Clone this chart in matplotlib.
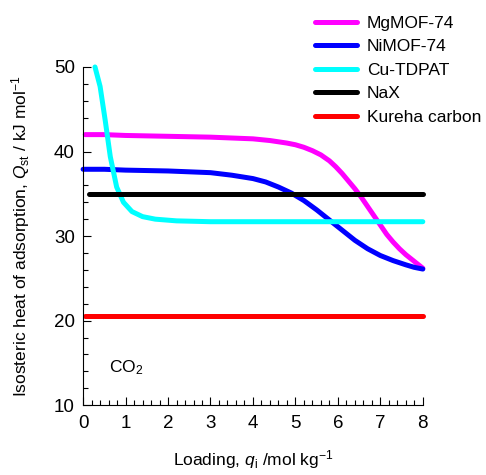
import matplotlib.pyplot as plt
from matplotlib.ticker import MultipleLocator

plt.rcParams['font.family'] = ['Liberation Sans', 'DejaVu Sans']
plt.rcParams['mathtext.fontset'] = 'custom'
plt.rcParams['mathtext.rm'] = 'Liberation Sans'
plt.rcParams['mathtext.it'] = 'Liberation Sans:italic'

# Isosteric heat of adsorption vs loading
mg_x = [0.05, 0.5, 1, 2, 3, 3.5, 4, 4.4, 4.8, 5.0, 5.2, 5.4, 5.6, 5.8, 5.95, 6.1, 6.25, 6.4, 6.55, 6.7, 6.85, 7.0, 7.15, 7.3, 7.45, 7.6, 7.8, 8]
mg_y = [42.0, 42.0, 41.9, 41.8, 41.7, 41.6, 41.5, 41.3, 41.0, 40.8, 40.5, 40.1, 39.6, 38.9, 38.2, 37.4, 36.5, 35.6, 34.6, 33.5, 32.4, 31.3, 30.2, 29.3, 28.5, 27.8, 27.0, 26.2]

ni_x = [0, 0.5, 1, 2, 3, 3.5, 4, 4.3, 4.6, 4.9, 5.2, 5.5, 5.8, 6.1, 6.4, 6.7, 7.0, 7.3, 7.6, 7.8, 8]
ni_y = [37.9, 37.9, 37.8, 37.7, 37.5, 37.2, 36.8, 36.4, 35.8, 35.1, 34.2, 33.1, 31.9, 30.7, 29.5, 28.5, 27.7, 27.1, 26.6, 26.3, 26.1]

cu_x = [0.28, 0.4, 0.52, 0.64, 0.79, 0.95, 1.15, 1.4, 1.7, 2.2, 3, 4, 5, 6, 7, 8]
cu_y = [50.0, 47.7, 43.7, 39.4, 35.8, 34.0, 32.9, 32.3, 32.0, 31.8, 31.7, 31.7, 31.7, 31.7, 31.7, 31.7]

nax_x = [0.15, 8]
nax_y = [35.0, 35.0]

kureha_x = [0.05, 8]
kureha_y = [20.6, 20.6]

series = [
    ('MgMOF-74', mg_x, mg_y, '#ff00ff'),
    ('NiMOF-74', ni_x, ni_y, '#0000ff'),
    ('Cu-TDPAT', cu_x, cu_y, '#00ffff'),
    ('NaX', nax_x, nax_y, 'black'),
    ('Kureha carbon', kureha_x, kureha_y, 'red'),
]

fig = plt.figure(figsize=(4.86, 4.75), dpi=100)
ax = fig.add_axes([0.171, 0.147, 0.699, 0.712])

for name, x, y, c in series:
    ax.plot(x, y, color=c, lw=3.6, solid_capstyle='round', solid_joinstyle='round',
            label=name, clip_on=False)

ax.set_xlim(0, 8)
ax.set_ylim(10, 50)
ax.xaxis.set_major_locator(MultipleLocator(1))
ax.xaxis.set_minor_locator(MultipleLocator(0.2))
ax.yaxis.set_major_locator(MultipleLocator(10))
ax.yaxis.set_minor_locator(MultipleLocator(2))
ax.tick_params(which='both', direction='in', labelsize=13.5)
ax.tick_params(which='major', length=6, width=0.8)
ax.tick_params(which='minor', length=3.5, width=0.8)
ax.tick_params(axis='x', pad=7)
ax.tick_params(axis='y', pad=6)
ax.spines['top'].set_visible(False)
ax.spines['right'].set_visible(False)

ax.set_xlabel('Loading, $q_\\mathrm{i}$ /mol kg$^{-1}$', fontsize=12.5, labelpad=12)
ax.set_ylabel('Isosteric heat of adsorption, $Q_\\mathrm{st}$ / kJ mol$^{-1}$', fontsize=12.5, labelpad=16)

ax.text(0.62, 14.4, 'CO$_2$', fontsize=12.5, va='center')

fig.legend(loc='upper left', bbox_to_anchor=(0.648, 0.967), frameon=False,
           fontsize=12.5, handlelength=2.4, handletextpad=0.6, labelspacing=0.48,
           borderaxespad=0, borderpad=0)

fig.savefig('out.png', dpi=100)
